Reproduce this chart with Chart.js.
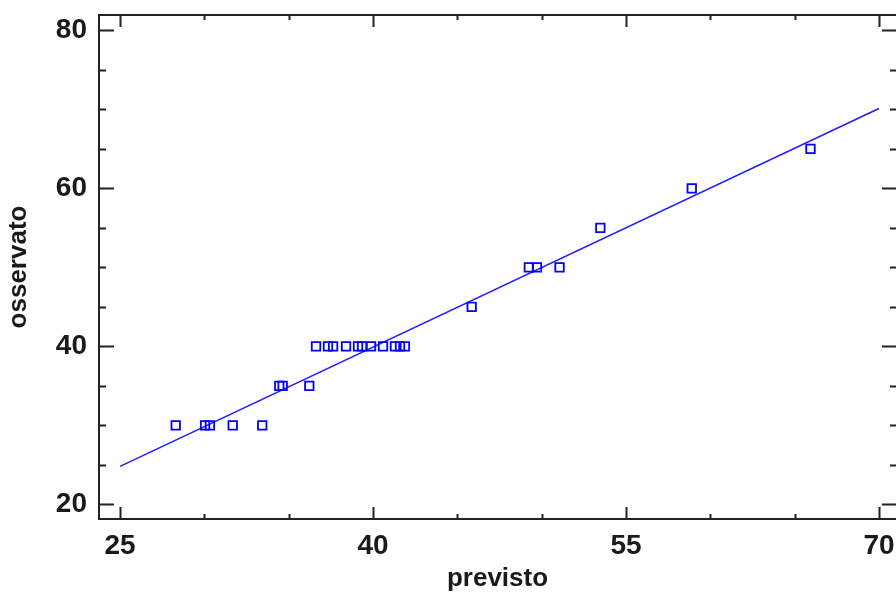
<!DOCTYPE html>
<html>
<head>
<meta charset="utf-8">
<script src="https://cdn.jsdelivr.net/npm/chart.js@4.4.0/dist/chart.umd.min.js"></script>
<style>
  html, body { margin: 0; padding: 0; background: #fff; }
  #wrap { width: 896px; height: 595px; position: relative; }
</style>
</head>
<body>
<div id="wrap"><canvas id="fitChart"></canvas></div>
<script>
// observed vs predicted values
const previsto = [28.3, 30.04, 30.33, 31.68, 33.43,
    34.44, 34.64, 36.22,
    36.62, 37.33, 37.63, 38.4, 39.11, 39.35, 39.88, 40.59, 41.3, 41.6, 41.89,
    45.85, 49.24, 49.72, 51.06, 53.48, 58.9, 65.94];
const osservato = [30, 30, 30, 30, 30,
    35, 35, 35,
    40, 40, 40, 40, 40, 40, 40, 40, 40, 40, 40,
    45, 50, 50, 50, 55, 60, 65];

// fitted line endpoints
const fitX = [25, 70];
const fitY = [24.8, 70.1];

// tick labels
const xTicks = [25, 40, 55, 70];
const yTicks = [20, 40, 60, 80];
const xMinor = [25, 30, 35, 40, 45, 50, 55, 60, 65, 70];
const yMinor = [20, 25, 30, 35, 40, 45, 50, 55, 60, 65, 70, 75, 80];

const ink = '#1a1a1a';
const blue = '#0000ff';

// no extra room for overhanging tick labels
function noOverhang(s) {
    s.paddingTop = 0;
    s.paddingBottom = 0;
    s.paddingLeft = 0;
    s.paddingRight = 0;
}

// frame and inward tick marks like the original plot
const framePlugin = {
    id: 'frame',
    afterDraw(chart) {
        const { ctx, chartArea: a, scales } = chart;
        const xs = scales.x, ys = scales.y;
        ctx.save();
        ctx.strokeStyle = '#222';
        ctx.lineWidth = 2;
        ctx.strokeRect(a.left, a.top, a.right - a.left + 1, a.bottom - a.top);
        ctx.beginPath();
        xMinor.forEach(v => {
            const px = Math.round(xs.getPixelForValue(v)) + 0.5;
            const len = xTicks.includes(v) ? 12 : 5;
            ctx.moveTo(px, a.bottom); ctx.lineTo(px, a.bottom - len);
            ctx.moveTo(px, a.top); ctx.lineTo(px, a.top + len);
        });
        yMinor.forEach(v => {
            const py = Math.round(ys.getPixelForValue(v)) + 0.5;
            const len = yTicks.includes(v) ? 15 : 7;
            ctx.moveTo(a.left, py); ctx.lineTo(a.left + len, py);
            ctx.moveTo(a.right + 1, py); ctx.lineTo(a.right + 1 - len, py);
        });
        ctx.stroke();
        ctx.restore();
    }
};

new Chart(document.getElementById('fitChart'), {
    type: 'scatter',
    data: {
        datasets: [{
            label: 'osservato',
            data: previsto.map((x, i) => ({ x: x, y: osservato[i] })),
            pointStyle: 'rect',
            pointRadius: 6,
            pointBorderWidth: 1.8,
            pointBackgroundColor: 'rgba(0,0,0,0)',
            pointBorderColor: blue
        }, {
            label: 'fit',
            data: fitX.map((x, i) => ({ x: x, y: fitY[i] })),
            showLine: true,
            borderColor: '#2020ff',
            borderWidth: 1.6,
            pointRadius: 0
        }]
    },
    options: {
        responsive: true,
        maintainAspectRatio: false,
        animation: false,
        layout: { autoPadding: false, padding: { top: 15, right: 0, left: 0, bottom: 0 } },
        plugins: {
            legend: { display: false },
            tooltip: { enabled: false }
        },
        scales: {
            x: {
                type: 'linear',
                min: 23.75,
                max: 71.01,
                afterFit: s => { s.height = 76; noOverhang(s); },
                afterBuildTicks: s => { s.ticks = xTicks.map(v => ({ value: v })); },
                grid: { display: false, drawTicks: false },
                border: { display: false },
                ticks: {
                    padding: 10,
                    color: ink,
                    font: { family: 'Liberation Sans, Arial, sans-serif', size: 28, weight: 'bold' }
                },
                title: {
                    display: true,
                    text: 'previsto',
                    color: ink,
                    padding: { top: 0, bottom: 1 },
                    font: { family: 'Liberation Sans, Arial, sans-serif', size: 26, weight: 'bold' }
                }
            },
            y: {
                type: 'linear',
                min: 18.14,
                max: 81.94,
                afterFit: s => { s.width = 99; noOverhang(s); },
                afterBuildTicks: s => { s.ticks = yTicks.map(v => ({ value: v })); },
                grid: { display: false, drawTicks: false },
                border: { display: false },
                ticks: {
                    padding: 12,
                    color: ink,
                    font: { family: 'Liberation Sans, Arial, sans-serif', size: 28, weight: 'bold' }
                },
                title: {
                    display: true,
                    text: 'osservato',
                    color: ink,
                    padding: { top: 3, bottom: 0 },
                    font: { family: 'Liberation Sans, Arial, sans-serif', size: 26, weight: 'bold' }
                }
            }
        }
    },
    plugins: [framePlugin]
});
</script>
</body>
</html>
